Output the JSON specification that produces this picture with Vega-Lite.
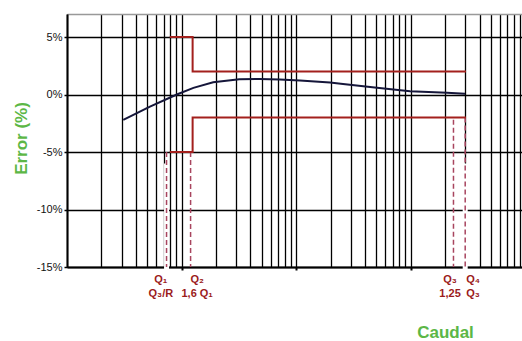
{
  "$schema": "https://vega.github.io/schema/vega-lite/v6.json",
  "autosize": {"type": "none"},
  "padding": {"left": 67, "top": 14, "right": 0, "bottom": 74},
  "width": 455,
  "height": 253,
  "background": "white",
  "config": {"view": {"stroke": null}, "font": "Liberation Sans"},
  "datasets": {
    "curve": [
      {"x": 3.1, "y": -2.2}, {"x": 5.3, "y": -1.05}, {"x": 9.1, "y": 0}, {"x": 12.7, "y": 0.58},
      {"x": 18.9, "y": 1.07}, {"x": 32, "y": 1.33}, {"x": 48, "y": 1.35}, {"x": 72, "y": 1.3},
      {"x": 108, "y": 1.22}, {"x": 198, "y": 1.05}, {"x": 257, "y": 0.92}, {"x": 509, "y": 0.58},
      {"x": 990, "y": 0.29}, {"x": 2080, "y": 0.15}, {"x": 2990, "y": 0.06}
    ],
    "limits": [
      {"s": "up", "o": 1, "x": 7.9, "y": 5}, {"s": "up", "o": 2, "x": 12.5, "y": 5},
      {"s": "up", "o": 3, "x": 12.5, "y": 2}, {"s": "up", "o": 4, "x": 3050, "y": 2},
      {"s": "lo", "o": 1, "x": 7.9, "y": -5}, {"s": "lo", "o": 2, "x": 12.5, "y": -5},
      {"s": "lo", "o": 3, "x": 12.5, "y": -2}, {"s": "lo", "o": 4, "x": 3050, "y": -2}
    ],
    "dashed": [
      {"x": 7.4, "y1": -5, "y2": -15}, {"x": 12, "y1": -5, "y2": -15},
      {"x": 2370, "y1": -2.2, "y2": -15}, {"x": 3000, "y1": -2, "y2": -15}
    ],
    "gaps": [
      {"x": 7.4, "y1": -6, "y2": -15.6}, {"x": 3000, "y1": -6, "y2": -15.6}
    ],
    "labels": [
      {"x": 6.6, "l1": "Q₁", "l2": "Q₃/R"}, {"x": 13.7, "l1": "Q₂", "l2": "1,6 Q₁"},
      {"x": 2213, "l1": "Q₃", "l2": "1,25"}, {"x": 3515, "l1": "Q₄", "l2": "Q₃"}
    ]
  },
  "layer": [
    {
      "data": {"name": "gaps"},
      "mark": {"type": "rule", "color": "white", "strokeWidth": 5},
      "encoding": {
        "x": {
          "field": "x", "type": "quantitative",
          "scale": {"type": "log", "domain": [1, 9400], "nice": false},
          "axis": {
            "values": [1,2,3,4,5,6,7,8,9,10,20,30,40,50,60,70,80,90,100,200,300,400,500,600,700,800,900,1000,2000,3000,4000,5000,6000,7000,8000,9000],
            "labels": false,
            "grid": true, "gridColor": "#000", "gridWidth": 1.3, "gridOpacity": 1,
            "domain": true, "domainColor": "#000", "domainWidth": 2,
            "ticks": true, "tickColor": "#000", "tickWidth": 2, "tickSize": 3,
            "tickOpacity": {"condition": {"test": "datum.value == 10 || datum.value == 100 || datum.value == 1000", "value": 1}, "value": 0},
            "title": "Caudal", "titleColor": "#5cb746", "titleFontSize": 17, "titleFontWeight": "bold",
            "titleX": 378, "titleY": 65, "titleAlign": "center", "titleBaseline": "middle"
          }
        },
        "y": {
          "field": "y1", "type": "quantitative",
          "scale": {"domain": [-15, 7], "nice": false, "zero": false},
          "axis": {
            "values": [-15, -10, -5, 0, 5, 7],
            "labelExpr": "datum.value == 7 ? '' : datum.value + '%'",
            "labelFontSize": 11, "labelColor": "#111", "labelPadding": 2,
            "grid": true, "gridWidth": 1.3, "gridOpacity": 1,
            "gridColor": {"condition": {"test": "datum.value == 7", "value": "#999"}, "value": "#000"},
            "domain": true, "domainColor": "#000", "domainWidth": 2,
            "ticks": true, "tickColor": "#000", "tickSize": 3, "tickWidth": 1.5,
            "tickOpacity": {"condition": {"test": "datum.value == 7", "value": 0}, "value": 1},
            "title": "Error (%)", "titleColor": "#5cb746", "titleFontSize": 17, "titleFontWeight": "bold",
            "titleX": -46, "titleY": 124, "titleAngle": -90, "titleAlign": "center", "titleBaseline": "middle"
          }
        },
        "y2": {"field": "y2"}
      }
    },
    {
      "data": {"name": "dashed"},
      "mark": {"type": "rule", "color": "#a8455f", "strokeDash": [5, 3], "strokeWidth": 1.5},
      "encoding": {
        "x": {"field": "x", "type": "quantitative"},
        "y": {"field": "y1", "type": "quantitative"},
        "y2": {"field": "y2"}
      }
    },
    {
      "data": {"name": "limits"},
      "mark": {"type": "line", "color": "#a3201d", "strokeWidth": 2},
      "encoding": {
        "x": {"field": "x", "type": "quantitative"},
        "y": {"field": "y", "type": "quantitative"},
        "detail": {"field": "s"},
        "order": {"field": "o"}
      }
    },
    {
      "data": {"name": "curve"},
      "mark": {"type": "line", "color": "#15163a", "strokeWidth": 2},
      "encoding": {
        "x": {"field": "x", "type": "quantitative"},
        "y": {"field": "y", "type": "quantitative"}
      }
    },
    {
      "data": {"name": "labels"},
      "mark": {"type": "text", "color": "#9b1b1b", "fontSize": 11, "fontWeight": "bold", "dy": 13, "baseline": "middle", "align": "center"},
      "encoding": {
        "x": {"field": "x", "type": "quantitative"},
        "y": {"datum": -15},
        "text": {"field": "l1"}
      }
    },
    {
      "data": {"name": "labels"},
      "mark": {"type": "text", "color": "#9b1b1b", "fontSize": 11, "fontWeight": "bold", "dy": 27, "baseline": "middle", "align": "center"},
      "encoding": {
        "x": {"field": "x", "type": "quantitative"},
        "y": {"datum": -15},
        "text": {"field": "l2"}
      }
    }
  ]
}
